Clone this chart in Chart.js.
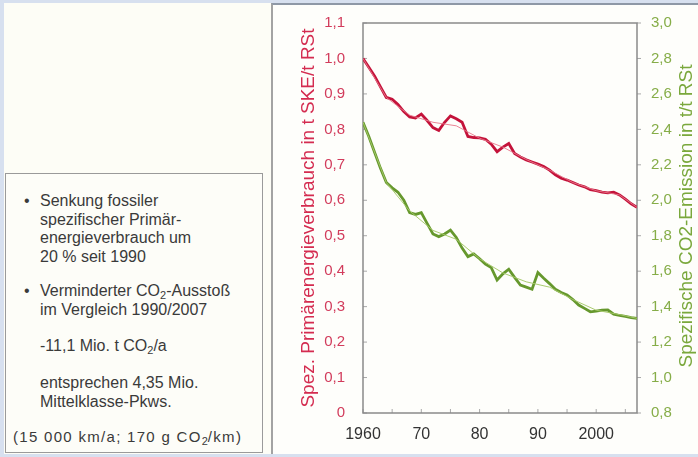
<!DOCTYPE html>
<html lang="de">
<head>
<meta charset="UTF-8" />
<title>Primärenergieverbrauch und CO2-Emission</title>
<script src="https://cdn.jsdelivr.net/npm/chart.js"></script>
<style>
  body { margin: 0; background: #d7e0ef; font-family: "Liberation Sans", Arial, sans-serif; }
  #seite { position: relative; width: 698px; height: 457px; overflow: hidden; }
  #links { position: absolute; left: 4px; top: 3px; width: 267px; height: 451px; background: #fdfdf6; }
  #rechts {
    position: absolute; left: 271px; top: 3px; width: 427px; height: 451px;
    background: #fefefb; border-left: 2px solid #a3a3a3; border-top: 2px solid #8e98a6;
    box-sizing: border-box;
  }
  #kasten {
    position: absolute; left: 5px; top: 173px; width: 258px; height: 280px;
    border: 1.5px solid #9a9a9a; box-sizing: border-box; background: #fdfdf8; color: #3a3a3a;
  }
  .txt { position: absolute; left: 34px; font-size: 16px; line-height: 18.5px; white-space: nowrap; }
  .punkt { position: absolute; left: -16px; }
  .klein { left: 7px; font-size: 15px; letter-spacing: 1.3px; }
  sub { font-size: 11px; vertical-align: -3px; line-height: 0; letter-spacing: 0; }
  #grafik { position: absolute; left: 273px; top: 0; }
</style>
</head>
<body>
<div id="seite">
  <div id="links"></div>
  <div id="rechts"></div>
  <div id="kasten">
    <div class="txt" style="top:18px"><span class="punkt">•</span>Senkung fossiler<br>spezifischer Primär-<br>energieverbrauch um<br>20 % seit 1990</div>
    <div class="txt" style="top:108px"><span class="punkt">•</span>Verminderter CO<sub>2</sub>-Ausstoß<br>im Vergleich 1990/2007</div>
    <div class="txt" style="top:163px">-11,1 Mio. t CO<sub>2</sub>/a</div>
    <div class="txt" style="top:200px">entsprechen 4,35 Mio.<br>Mittelklasse-Pkws.</div>
    <div class="txt klein" style="top:254px">(15 000 km/a; 170 g CO<sub>2</sub>/km)</div>
  </div>
  <canvas id="grafik" width="425" height="457"></canvas>
</div>
<script>
// Jahre und Messwerte
const jahre = [1960, 1961, 1962, 1963, 1964, 1965, 1966, 1967, 1968, 1969,
  1970, 1971, 1972, 1973, 1974, 1975, 1976, 1977, 1978, 1979,
  1980, 1981, 1982, 1983, 1984, 1985, 1986, 1987, 1988, 1989,
  1990, 1991, 1992, 1993, 1994, 1995, 1996, 1997, 1998, 1999,
  2000, 2001, 2002, 2003, 2004, 2005, 2006, 2007];

// t SKE / t RSt (linke Achse)
const primaerenergie = [1.00, 0.975, 0.95, 0.92, 0.89, 0.885, 0.87, 0.85, 0.835, 0.832,
  0.843, 0.825, 0.805, 0.797, 0.82, 0.838, 0.83, 0.82, 0.78, 0.777,
  0.776, 0.772, 0.758, 0.737, 0.75, 0.76, 0.732, 0.722, 0.714, 0.708,
  0.702, 0.695, 0.685, 0.672, 0.662, 0.657, 0.65, 0.643, 0.638, 0.63,
  0.627, 0.623, 0.621, 0.623, 0.615, 0.603, 0.59, 0.58];

// t CO2 / t RSt (rechte Achse)
const co2Emission = [2.44, 2.36, 2.27, 2.18, 2.10, 2.07, 2.045, 2.00, 1.93, 1.92,
  1.93, 1.87, 1.81, 1.795, 1.81, 1.832, 1.79, 1.73, 1.682, 1.697,
  1.67, 1.64, 1.62, 1.55, 1.585, 1.611, 1.565, 1.522, 1.51, 1.498,
  1.592, 1.56, 1.53, 1.498, 1.48, 1.466, 1.44, 1.409, 1.39, 1.371,
  1.375, 1.38, 1.381, 1.358, 1.35, 1.345, 1.338, 1.334];

// geglättete Trendlinien
const trendJahre = [1960, 1964, 1968, 1972, 1976, 1980, 1984, 1988, 1992, 1996, 2000, 2004, 2007];
const primaerTrend = [1.00, 0.89, 0.84, 0.82, 0.81, 0.775, 0.75, 0.715, 0.685, 0.65, 0.627, 0.615, 0.58];
const co2Trend = [2.44, 2.10, 1.94, 1.83, 1.78, 1.67, 1.59, 1.54, 1.51, 1.44, 1.38, 1.355, 1.334];

// Achsenbeschriftung
const xTicks = [1960, 1965, 1970, 1975, 1980, 1985, 1990, 1995, 2000, 2005];
const xLabelJahre = [1960, 1970, 1980, 1990, 2000];
const xLabelText = ['1960', '70', '80', '90', '2000'];
const linksTicks = [0, 0.1, 0.2, 0.3, 0.4, 0.5, 0.6, 0.7, 0.8, 0.9, 1.0, 1.1];
const rechtsTicks = [0.8, 1.0, 1.2, 1.4, 1.6, 1.8, 2.0, 2.2, 2.4, 2.6, 2.8, 3.0];

const ROT = '#c4133a';
const GRUEN = '#66982d';
const SCHRIFT = '"Liberation Sans", Arial, sans-serif';

const punkte = (xs, ys) => xs.map((j, i) => ({ x: j, y: ys[i] }));
const komma = v => v === 0 ? '0' : v.toFixed(1).replace('.', ',');

// Rahmen, kurze Striche und rechter Achsentitel
const rahmen = {
  id: 'rahmen',
  beforeDatasetsDraw(chart) {
    const { ctx, chartArea: a, scales } = chart;
    ctx.save();
    ctx.strokeStyle = '#a8a8a8';
    ctx.lineWidth = 1;
    ctx.beginPath();
    scales.x.ticks.forEach(t => {
      const px = scales.x.getPixelForValue(t.value);
      ctx.moveTo(px, a.bottom); ctx.lineTo(px, a.bottom - 4);
    });
    scales.y.ticks.forEach(t => {
      const py = scales.y.getPixelForValue(t.value);
      ctx.moveTo(a.left, py); ctx.lineTo(a.left + 4, py);
    });
    scales.y1.ticks.forEach(t => {
      const py = scales.y1.getPixelForValue(t.value);
      ctx.moveTo(a.right, py); ctx.lineTo(a.right + 4, py);
    });
    ctx.stroke();
    ctx.strokeStyle = '#8a8a8a';
    ctx.lineWidth = 1.5;
    ctx.strokeRect(a.left, a.top, a.right - a.left, a.bottom - a.top);
    ctx.restore();
  },
  afterDraw(chart) {
    const { ctx } = chart;
    ctx.save();
    ctx.translate(414, 216);
    ctx.rotate(-Math.PI / 2);
    ctx.font = '19px ' + SCHRIFT;
    ctx.fillStyle = '#7aa83c';
    ctx.textAlign = 'center';
    ctx.textBaseline = 'middle';
    ctx.fillText('Spezifische CO2-Emission in t/t RSt', 0, 0);
    ctx.restore();
  }
};

new Chart(document.getElementById('grafik'), {
  type: 'line',
  data: {
    datasets: [
      { data: punkte(trendJahre, primaerTrend), yAxisID: 'y', borderColor: 'rgba(232,120,140,0.9)', borderWidth: 1, pointRadius: 0, order: 0 },
      { data: punkte(trendJahre, co2Trend), yAxisID: 'y1', borderColor: 'rgba(165,200,105,0.95)', borderWidth: 1, pointRadius: 0, order: 0 },
      { data: punkte(jahre, primaerenergie), yAxisID: 'y', borderColor: ROT, borderWidth: 2.8, pointRadius: 0, order: 1 },
      { data: punkte(jahre, co2Emission), yAxisID: 'y1', borderColor: GRUEN, borderWidth: 2.8, pointRadius: 0, order: 1 }
    ]
  },
  options: {
    responsive: false,
    animation: false,
    devicePixelRatio: 1,
    layout: { padding: { top: 23, left: 0, right: 0, bottom: 0 } },
    plugins: { legend: { display: false }, tooltip: { enabled: false } },
    scales: {
      x: {
        type: 'linear', min: 1960, max: 2007,
        grid: { display: false }, border: { display: false },
        afterBuildTicks: s => { s.ticks = xTicks.map(v => ({ value: v })); },
        afterFit: s => { s.height = 44; },
        ticks: {
          autoSkip: false, maxRotation: 0, padding: 4, color: '#333333',
          font: { family: SCHRIFT, size: 16 },
          callback: v => { const i = xLabelJahre.indexOf(v); return i >= 0 ? xLabelText[i] : ''; }
        }
      },
      y: {
        position: 'left', min: 0, max: 1.1,
        grid: { display: false }, border: { display: false },
        afterBuildTicks: s => { s.ticks = linksTicks.map(v => ({ value: v })); },
        afterFit: s => { s.width = 90; },
        ticks: { padding: 10, color: '#d23c5c', font: { family: SCHRIFT, size: 15 }, callback: komma },
        title: {
          display: true, text: 'Spez. Primärenergieverbrauch in t SKE/t RSt',
          color: '#d42c50', font: { family: SCHRIFT, size: 19 }, padding: { top: 24, bottom: 0 }
        }
      },
      y1: {
        position: 'right', min: 0.8, max: 3.0,
        grid: { display: false }, border: { display: false },
        afterBuildTicks: s => { s.ticks = rechtsTicks.map(v => ({ value: v })); },
        afterFit: s => { s.width = 61; },
        ticks: { padding: 6, color: '#86ad48', font: { family: SCHRIFT, size: 15 }, callback: komma }
      }
    }
  },
  plugins: [rahmen]
});
</script>
</body>
</html>
